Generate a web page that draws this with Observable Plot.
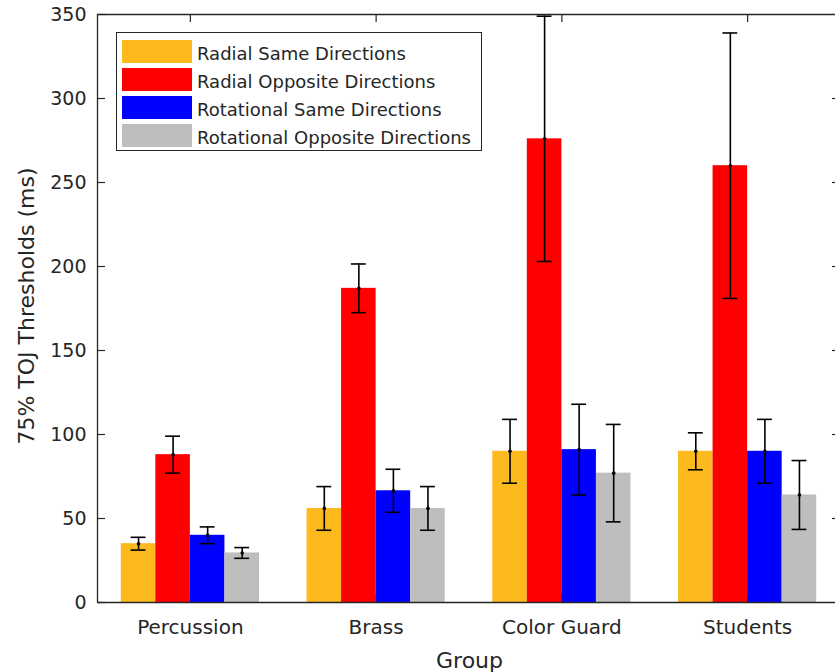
<!DOCTYPE html>
<html><head><meta charset="utf-8">
<script src="https://cdn.jsdelivr.net/npm/d3@7"></script>
<script src="https://cdn.jsdelivr.net/npm/@observablehq/plot@0.6"></script>
<style>
body{margin:0;background:#fff;}
#wrap{position:relative;width:835px;height:672px;overflow:hidden;background:#fff;}
#legend{position:absolute;left:116px;top:32px;width:366px;height:119px;border:1.3px solid #262626;background:#fff;box-sizing:border-box;padding:4px 0 0 5px;font-family:"DejaVu Sans";font-size:18px;color:#262626;}
.row{display:flex;align-items:center;height:28px;}
.sw{width:70px;height:23px;margin-right:5px;flex:none;}
.lbl{position:relative;top:2px;white-space:nowrap;}
</style></head><body><div id="wrap"></div>
<script>
const groups = ["Percussion", "Brass", "Color Guard", "Students"];
const seriesNames = ["Radial Same Directions", "Radial Opposite Directions", "Rotational Same Directions", "Rotational Opposite Directions"];
const seriesColors = ["#fcba1e", "#ff0000", "#0000ff", "#bebebe"];
const radialSame = [35, 56, 90, 90];
const radialSameErr = [3.8, 13, 19, 11];
const radialOpp = [88, 187, 276, 260];
const radialOppErr = [11, 14.5, 73, 79];
const rotSame = [40, 66.5, 91, 90];
const rotSameErr = [5, 12.8, 27, 19];
const rotOpp = [29.5, 56, 77, 64];
const rotOppErr = [3.2, 13, 29, 20.5];
const yTicks = [0, 50, 100, 150, 200, 250, 300, 350];
const yTitle = "75% TOJ Thresholds (ms)";
const xTitle = "Group";

const means = [radialSame, radialOpp, rotSame, rotOpp];
const errs = [radialSameErr, radialOppErr, rotSameErr, rotOppErr];
const barW = 0.186;
const capW = 0.04;
const xTickLen = 8 / 185.75;
const yTickLen = 8 / 1.677;
const xPos = groups.map((g, i) => i + 1);
const rows = [];
groups.forEach((g, i) => seriesNames.forEach((s, j) => {
  const c = i + 1 + (j - 1.5) * barW;
  rows.push({group: g, series: s, x1: c - barW / 2, x2: c + barW / 2, xc: c, v: means[j][i], e: errs[j][i]});
}));
const axisColor = "#262626";

const chart = Plot.plot({
  width: 835, height: 672,
  marginLeft: 97, marginRight: 0, marginTop: 14, marginBottom: 70,
  style: {fontFamily: "DejaVu Sans", fontSize: "19px", color: axisColor, background: "white"},
  x: {type: "linear", domain: [0.5, 4.5], range: [97, 840], label: null},
  y: {domain: [0, 350], range: [602, 14], label: null},
  color: {domain: seriesNames, range: seriesColors},
  marks: [
    Plot.ruleX(xPos, {x: d => d, y1: 0, y2: yTickLen, stroke: axisColor, strokeWidth: 1.2}),
    Plot.rectY(rows, {x1: "x1", x2: "x2", y1: 0, y2: "v", fill: "series", inset: 0}),
    Plot.ruleX(rows, {x: "xc", y1: d => d.v - d.e, y2: d => d.v + d.e, stroke: "black", strokeWidth: 1.6}),
    Plot.ruleY(rows, {y: d => d.v + d.e, x1: d => d.xc - capW, x2: d => d.xc + capW, stroke: "black", strokeWidth: 1.6}),
    Plot.ruleY(rows, {y: d => d.v - d.e, x1: d => d.xc - capW, x2: d => d.xc + capW, stroke: "black", strokeWidth: 1.6}),
    Plot.dot(rows, {x: "xc", y: "v", r: 1.8, fill: "black", stroke: null}),
    Plot.ruleY([0, 350], {y: d => d, x1: 0.5, x2: 4.5, stroke: axisColor, strokeWidth: 1.3}),
    Plot.ruleX([0.5], {x: d => d, y1: 0, y2: 350, stroke: axisColor, strokeWidth: 1.3}),
    Plot.ruleY(yTicks, {y: d => d, x1: 0.5, x2: 0.5 + xTickLen, stroke: axisColor, strokeWidth: 1.2}),
    Plot.ruleY(yTicks.slice(1, -1), {y: d => d, x1: 4.5 - xTickLen, x2: 4.5, stroke: axisColor, strokeWidth: 1.2}),
    Plot.ruleX(xPos, {x: d => d, y1: 350, y2: 350 - yTickLen, stroke: axisColor, strokeWidth: 1.2}),
    Plot.axisY({ticks: yTicks, tickSize: 0, tickPadding: 11, fontSize: 19, label: null}),
    Plot.axisX({ticks: xPos, tickFormat: d => groups[d - 1], tickSize: 0, tickPadding: 17, fontSize: 20, label: null}),
    Plot.text([yTitle], {text: d => d, frameAnchor: "left", textAnchor: "middle", rotate: -90, dx: -71, dy: -2.5, fontSize: 22, lineAnchor: "middle", fill: axisColor}),
    Plot.text([xTitle], {text: d => d, frameAnchor: "bottom", dx: 3, dy: 58, fontSize: 22, lineAnchor: "middle", fill: axisColor})
  ]
});
const wrap = document.getElementById("wrap");
wrap.appendChild(chart);
const legend = document.createElement("div");
legend.id = "legend";
seriesNames.forEach((s, j) => {
  const row = document.createElement("div");
  row.className = "row";
  const sw = document.createElement("div");
  sw.className = "sw";
  sw.style.background = seriesColors[j];
  const lb = document.createElement("span");
  lb.className = "lbl";
  lb.textContent = s;
  row.appendChild(sw); row.appendChild(lb);
  legend.appendChild(row);
});
wrap.appendChild(legend);
</script></body></html>
